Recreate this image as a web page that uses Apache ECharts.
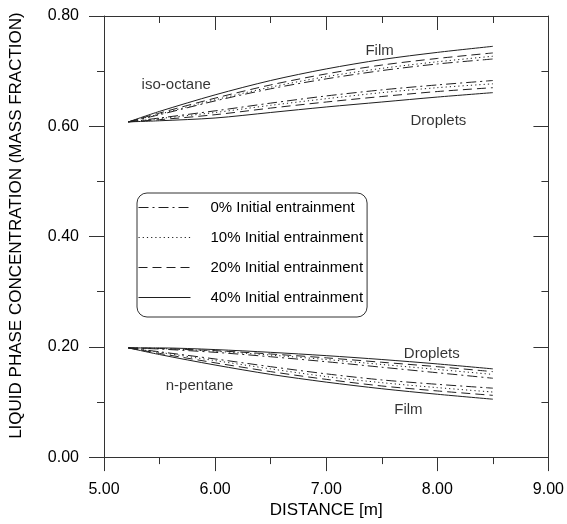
<!DOCTYPE html>
<html>
<head>
<meta charset="utf-8">
<script src="https://cdn.jsdelivr.net/npm/echarts@6/dist/echarts.min.js"></script>
<style>
  html, body { margin: 0; padding: 0; background: #fff; }
  #chart { width: 567px; height: 524px; }
</style>
</head>
<body>
<div id="chart"></div>
<script>
// Axial distance along the tube [m]
const distance = [5.22, 5.5, 6.0, 6.5, 7.0, 7.5, 8.0, 8.5];

// Entrainment cases (legend labels)
const cases = ['0% Initial entrainment', '10% Initial entrainment',
               '20% Initial entrainment', '40% Initial entrainment'];

// iso-octane mass fraction, liquid film
const isoFilm0  = [0.608, 0.621, 0.646, 0.668, 0.686, 0.701, 0.713, 0.722];
const isoFilm10 = [0.608, 0.622, 0.648, 0.671, 0.690, 0.705, 0.717, 0.727];
const isoFilm20 = [0.608, 0.624, 0.651, 0.675, 0.695, 0.711, 0.723, 0.733];
const isoFilm40 = [0.608, 0.627, 0.657, 0.683, 0.704, 0.721, 0.734, 0.745];
// iso-octane mass fraction, droplets
const isoDrop0  = [0.608, 0.615, 0.628, 0.642, 0.655, 0.666, 0.675, 0.683];
const isoDrop10 = [0.608, 0.614, 0.625, 0.638, 0.650, 0.661, 0.670, 0.677];
const isoDrop20 = [0.608, 0.612, 0.621, 0.633, 0.644, 0.654, 0.663, 0.670];
const isoDrop40 = [0.608, 0.610, 0.615, 0.625, 0.635, 0.644, 0.653, 0.661];

// n-pentane mass fraction, droplets
const penDrop0  = [0.198, 0.196, 0.190, 0.182, 0.173, 0.163, 0.153, 0.143];
const penDrop10 = [0.198, 0.197, 0.192, 0.185, 0.177, 0.168, 0.159, 0.150];
const penDrop20 = [0.198, 0.197, 0.193, 0.187, 0.180, 0.172, 0.164, 0.155];
const penDrop40 = [0.198, 0.198, 0.195, 0.190, 0.184, 0.177, 0.169, 0.160];
// n-pentane mass fraction, liquid film
const penFilm0  = [0.198, 0.191, 0.178, 0.164, 0.151, 0.140, 0.132, 0.125];
const penFilm10 = [0.198, 0.190, 0.175, 0.160, 0.146, 0.135, 0.126, 0.118];
const penFilm20 = [0.198, 0.188, 0.171, 0.155, 0.141, 0.129, 0.120, 0.112];
const penFilm40 = [0.198, 0.186, 0.167, 0.150, 0.136, 0.124, 0.114, 0.105];

// In-plot annotations [distance, fraction, text]
const notes = [
  [7.48, 0.737, 'Film'],
  [5.65, 0.675, 'iso-octane'],
  [8.01, 0.609, 'Droplets'],
  [7.95, 0.187, 'Droplets'],
  [5.86, 0.130, 'n-pentane'],
  [7.74, 0.085, 'Film']
];

// Axis ticks
const xTicks = { min: 5, max: 9, step: 1 };
const yTicks = { min: 0, max: 0.8, step: 0.2 };

const INK = '#1f1f1f';
const FONT = '"Liberation Sans", Arial, Helvetica, sans-serif';
const dashFor = [[10, 4, 2, 4], [1.2, 3], [9, 5], 'solid'];

function curve(name, idx, vals) {
  return {
    type: 'line',
    name: name,
    data: distance.map((d, i) => [d, vals[i]]),
    smooth: 0.3,
    symbol: 'none',
    silent: true,
    lineStyle: { color: INK, width: 1, type: dashFor[idx] },
    itemStyle: { color: INK }
  };
}

const groups = [
  [isoFilm0, isoFilm10, isoFilm20, isoFilm40],
  [isoDrop0, isoDrop10, isoDrop20, isoDrop40],
  [penDrop0, penDrop10, penDrop20, penDrop40],
  [penFilm0, penFilm10, penFilm20, penFilm40]
];

const series = [];
groups.forEach(g => g.forEach((vals, k) => series.push(curve(cases[k], k, vals))));
series.push({
  type: 'scatter',
  name: 'notes',
  data: notes.map(n => ({ value: [n[0], n[1]], name: n[2] })),
  symbolSize: 0,
  silent: true,
  label: {
    show: true, position: 'inside', formatter: '{b}',
    color: '#000', fontSize: 15, fontFamily: FONT
  }
});

function xAxisDef(pos, showLabels) {
  const inside = pos === 'top';
  return {
    type: 'value', position: pos,
    min: xTicks.min, max: xTicks.max, interval: xTicks.step,
    axisLine: { show: true, onZero: false, lineStyle: { color: '#333', width: 1 } },
    axisTick: { show: true, inside: inside, length: 14, lineStyle: { color: '#333' } },
    minorTick: { show: true, splitNumber: 2, length: 7, lineStyle: { color: '#333' } },
    splitLine: { show: false },
    axisLabel: {
      show: showLabels, margin: 24, color: '#000', fontSize: 16, fontFamily: FONT,
      formatter: v => v.toFixed(2)
    },
    name: showLabels ? 'DISTANCE [m]' : '',
    nameLocation: 'middle', nameGap: 40,
    nameTextStyle: { color: '#000', fontSize: 17, fontFamily: FONT }
  };
}

function yAxisDef(pos, showLabels) {
  const inside = pos === 'right';
  return {
    type: 'value', position: pos,
    min: yTicks.min, max: yTicks.max, interval: yTicks.step,
    axisLine: { show: true, onZero: false, lineStyle: { color: '#333', width: 1 } },
    axisTick: { show: true, inside: inside, length: 15, lineStyle: { color: '#333' } },
    minorTick: { show: true, splitNumber: 2, length: 7, lineStyle: { color: '#333' } },
    splitLine: { show: false },
    axisLabel: {
      show: showLabels, margin: 25, color: '#000', fontSize: 16, fontFamily: FONT,
      formatter: v => v.toFixed(2)
    },
    name: showLabels ? 'LIQUID PHASE CONCENTRATION (MASS FRACTION)' : '',
    nameLocation: 'middle', nameGap: 79, nameRotate: 90,
    nameTextStyle: { color: '#000', fontSize: 17, fontFamily: FONT, padding: [0, 0, 0, 22] }
  };
}

const chart = echarts.init(document.getElementById('chart'), null, { renderer: 'canvas' });
chart.setOption({
  animation: false,
  backgroundColor: '#fff',
  grid: { left: 103, right: 18, top: 16, bottom: 61, containLabel: false },
  xAxis: [xAxisDef('bottom', true), xAxisDef('top', false)],
  yAxis: [yAxisDef('left', true), yAxisDef('right', false)],
  legend: {
    data: cases,
    orient: 'vertical',
    left: 137, top: 193,
    itemWidth: 52, itemHeight: 14, itemGap: 15,
    padding: [7, 4, 12, 1],
    borderColor: '#333', borderWidth: 1, borderRadius: 10,
    backgroundColor: '#fff',
    selectedMode: false,
    itemStyle: { opacity: 0 },
    lineStyle: { width: 1 },
    textStyle: { color: '#000', fontSize: 15, fontFamily: FONT, padding: [0, 0, 0, 15] }
  },
  series: series
});
</script>
</body>
</html>
